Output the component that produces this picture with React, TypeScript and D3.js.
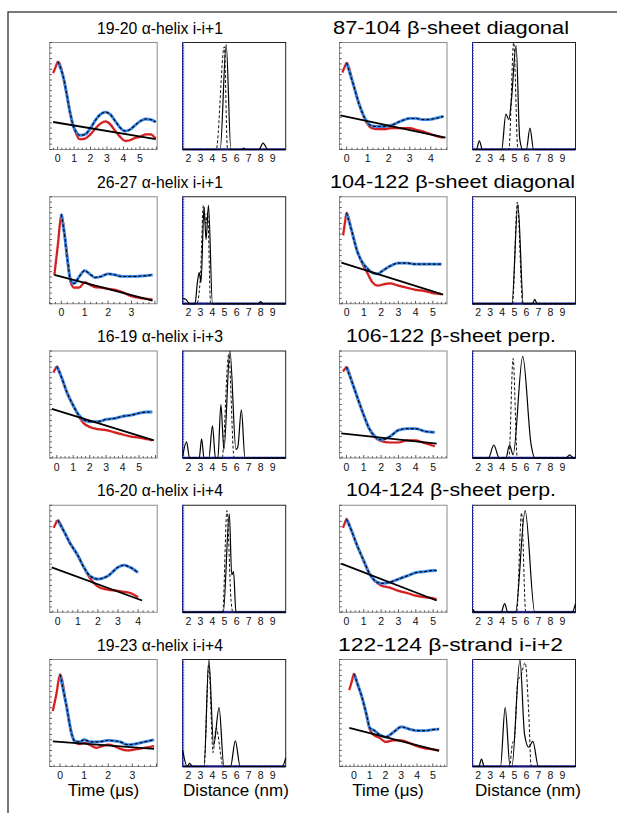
import React from "react";
import * as d3 from "d3";

// ---------- data ----------
const titles = [
  "19-20 α-helix i-i+1", "87-104 β-sheet diagonal",
  "26-27 α-helix i-i+1", "104-122 β-sheet diagonal",
  "16-19 α-helix i-i+3", "106-122 β-sheet perp.",
  "16-20 α-helix i-i+4", "104-124 β-sheet perp.",
  "19-23 α-helix i-i+4", "122-124 β-strand i-i+2",
];
const timeDomains = [
  [-0.48, 6.05], [-0.34, 4.77], [-0.5, 4.1], [-0.41, 5.82], [-0.43, 6.1],
  [-0.4, 5.8], [-0.4, 4.95], [-0.4, 5.8], [-0.43, 4.03], [-0.92, 5.9],
];
const timeTicks = [
  [0, 1, 2, 3, 4, 5], [0, 1, 2, 3, 4], [0, 1, 2, 3], [0, 1, 2, 3, 4, 5], [0, 1, 2, 3, 4, 5],
  [0, 1, 2, 3, 4, 5], [0, 1, 2, 3, 4], [0, 1, 2, 3, 4, 5], [0, 1, 2, 3], [0, 1, 2, 3, 4, 5],
];
const distDomain = [1.53, 10.08];
const distTicks = [2, 3, 4, 5, 6, 7, 8, 9];

// panel A: 19-20
const aT = [-0.27, -0.12, 0.02, 0.35, 0.55, 0.75, 0.96, 1.15, 1.33, 1.67, 1.98, 2.29, 2.6, 2.9, 3.2, 3.5, 3.8, 4.1, 4.4, 4.7, 5.0, 5.35, 5.65, 5.96];
const aRed = [0.715, 0.77, 0.82, 0.675, 0.52, 0.35, 0.217, 0.14, 0.096, 0.102, 0.139, 0.195, 0.241, 0.263, 0.235, 0.173, 0.118, 0.08, 0.087, 0.108, 0.118, 0.142, 0.142, 0.102];
const aBlue = [null, null, 0.82, 0.675, 0.52, 0.35, 0.217, 0.16, 0.133, 0.142, 0.195, 0.272, 0.328, 0.35, 0.328, 0.266, 0.204, 0.173, 0.186, 0.226, 0.263, 0.285, 0.28, 0.257];
const aBaseT = [-0.27, 5.96];
const aBaseY = [0.257, 0.096];
const aSolidR = [1.53, 4.64, 5.14, 5.53, 6.45, 6.6, 6.75, 7.86, 8.2, 8.6, 10.08];
const aSolidP = [0, 0, 0.98, 0, 0, 0.012, 0, 0, 0.06, 0, 0];
const aDashR = [1.53, 4.31, 4.98, 5.25, 10.08];
const aDashP = [0, 0, 0.96, 0, 0];

// panel B: 87-104
const bT = [-0.2, -0.1, 0, 0.3, 0.6, 0.9, 1.2, 1.5, 1.8, 2.1, 2.4, 2.7, 3.0, 3.3, 3.6, 3.9, 4.2, 4.6];
const bRed = [0.72, 0.77, 0.81, 0.62, 0.42, 0.27, 0.2, 0.19, 0.19, 0.2, 0.2, 0.2, 0.2, 0.185, 0.17, 0.15, 0.13, 0.11];
const bBlue = [null, null, 0.81, 0.62, 0.42, 0.28, 0.22, 0.215, 0.215, 0.225, 0.25, 0.275, 0.29, 0.29, 0.28, 0.28, 0.29, 0.31];
const bBaseT = [-0.3, 4.7];
const bBaseY = [0.32, 0.11];
const bSolidR = [1.53, 1.85, 2.1, 2.35, 3.95, 4.3, 4.55, 4.75, 5.15, 5.45, 5.7, 6.0, 6.3, 6.6, 10.08];
const bSolidP = [0, 0, 0.08, 0, 0, 0.33, 0.28, 0.45, 0.97, 0.1, 0, 0, 0.2, 0, 0];
const bDashR = [1.53, 4.55, 4.95, 5.3, 10.08];
const bDashP = [0, 0, 1.0, 0, 0];

// panel C: 26-27
const cT = [-0.3, -0.15, 0, 0.15, 0.25, 0.4, 0.55, 0.75, 1.0, 1.2, 1.45, 1.7, 2.0, 2.3, 2.6, 3.0, 3.5, 3.9];
const cRed = [0.27, 0.55, 0.835, 0.62, 0.43, 0.2, 0.15, 0.15, 0.2, 0.18, 0.155, 0.15, 0.14, 0.13, 0.11, 0.07, 0.05, 0.04];
const cBlue = [null, null, 0.835, 0.62, 0.43, 0.22, 0.19, 0.25, 0.31, 0.28, 0.245, 0.255, 0.28, 0.27, 0.255, 0.255, 0.26, 0.27];
const cBaseT = [-0.3, 3.9];
const cBaseY = [0.27, 0.03];
const cSolidR = [1.53, 1.8, 2.1, 2.55, 2.75, 2.9, 3.05, 3.3, 3.47, 3.67, 4.0, 7.8, 8.0, 8.2, 10.08];
const cSolidP = [0.05, 0.04, 0, 0, 0.2, 0.29, 0.2, 0.9, 0.6, 0.92, 0, 0, 0.02, 0, 0];
const cDashR = [1.53, 2.7, 3.0, 3.25, 3.45, 3.6, 3.85, 10.08];
const cDashP = [0, 0, 0.25, 0.92, 0.75, 0.85, 0, 0];

// panel D: 104-122
const dT = [-0.2, -0.1, 0, 0.3, 0.6, 0.9, 1.2, 1.5, 1.8, 2.1, 2.5, 3.0, 3.5, 4.0, 4.5, 5.0, 5.5];
const dRed = [0.64, 0.75, 0.85, 0.68, 0.5, 0.38, 0.29, 0.2, 0.17, 0.18, 0.19, 0.17, 0.15, 0.13, 0.12, 0.1, 0.09];
const dBlue = [null, null, 0.85, 0.68, 0.5, 0.39, 0.33, 0.29, 0.28, 0.31, 0.35, 0.38, 0.38, 0.37, 0.37, 0.37, 0.37];
const dBaseT = [-0.3, 5.6];
const dBaseY = [0.385, 0.085];
const dSolidR = [1.53, 4.8, 5.3, 5.75, 6.5, 6.7, 6.9, 10.08];
const dSolidP = [0, 0, 0.93, 0, 0, 0.04, 0, 0];
const dDashR = [1.53, 4.85, 5.25, 5.7, 10.08];
const dDashP = [0, 0, 0.95, 0, 0];

// panel E: 16-19
const eT = [-0.2, -0.1, 0, 0.3, 0.6, 1.0, 1.3, 1.6, 2.0, 2.5, 3.0, 3.5, 4.0, 4.5, 5.0, 5.5, 5.8];
const eRed = [0.8, 0.83, 0.855, 0.75, 0.62, 0.49, 0.4, 0.33, 0.29, 0.27, 0.26, 0.24, 0.22, 0.2, 0.19, 0.175, 0.165];
const eBlue = [null, null, 0.855, 0.75, 0.62, 0.49, 0.41, 0.36, 0.34, 0.34, 0.36, 0.37, 0.39, 0.4, 0.42, 0.43, 0.43];
const eBaseT = [-0.3, 5.9];
const eBaseY = [0.46, 0.165];
const eSolidR = [1.53, 1.85, 2.1, 2.9, 3.1, 3.3, 3.7, 4.0, 4.25, 4.45, 4.7, 4.95, 5.45, 5.95, 6.1, 6.4, 6.7, 10.08];
const eSolidP = [0.02, 0.15, 0, 0, 0.18, 0, 0, 0.3, 0, 0, 0.5, 0.08, 1.0, 0.08, 0.1, 0.45, 0, 0];
const eDashR = [1.53, 4.8, 5.35, 5.8, 10.08];
const eDashP = [0, 0, 0.97, 0, 0];

// panel F: 106-122
const fT = [-0.2, -0.1, 0, 0.3, 0.6, 1.0, 1.3, 1.6, 2.0, 2.5, 3.0, 3.5, 4.0, 4.5, 5.1];
const fRed = [0.81, 0.83, 0.85, 0.72, 0.58, 0.4, 0.28, 0.2, 0.16, 0.145, 0.145, 0.165, 0.165, 0.14, 0.11];
const fBlue = [null, null, 0.85, 0.72, 0.58, 0.4, 0.28, 0.21, 0.17, 0.2, 0.26, 0.275, 0.275, 0.25, 0.24];
const fBaseT = [-0.3, 5.2];
const fBaseY = [0.23, 0.135];
const fSolidR = [1.53, 2.85, 3.3, 3.75, 4.3, 4.6, 4.9, 5.7, 6.4, 6.7, 9.3, 9.6, 9.9, 10.08];
const fSolidP = [0, 0, 0.12, 0, 0, 0.12, 0.03, 0.95, 0.12, 0, 0, 0.03, 0, 0];
const fDashR = [1.53, 4.55, 4.9, 5.25, 10.08];
const fDashP = [0, 0, 0.93, 0, 0];

// panel G: 16-20
const gT = [-0.2, -0.1, 0, 0.3, 0.6, 1.0, 1.3, 1.6, 2.0, 2.5, 3.0, 3.3, 3.6, 4.0];
const gRed = [0.79, 0.83, 0.86, 0.76, 0.65, 0.53, 0.42, 0.32, 0.24, 0.21, 0.2, 0.19, 0.18, 0.14];
const gBlue = [null, null, 0.86, 0.76, 0.65, 0.53, 0.42, 0.34, 0.31, 0.34, 0.42, 0.44, 0.42, 0.37];
const gBaseT = [-0.3, 4.2];
const gBaseY = [0.42, 0.11];
const gSolidR = [1.53, 4.9, 5.4, 5.6, 5.75, 5.95, 10.08];
const gSolidP = [0, 0, 0.92, 0.35, 0.38, 0, 0];
const gDashR = [1.53, 4.85, 5.2, 5.55, 5.7, 10.08];
const gDashP = [0, 0, 0.95, 0.1, 0, 0];

// panel H: 104-124
const hT = [-0.2, -0.1, 0, 0.3, 0.6, 1.0, 1.3, 1.6, 2.0, 2.5, 3.0, 3.5, 4.0, 4.5, 5.0, 5.2];
const hRed = [0.79, 0.83, 0.87, 0.76, 0.63, 0.48, 0.37, 0.3, 0.25, 0.23, 0.2, 0.18, 0.155, 0.14, 0.13, 0.12];
const hBlue = [null, null, 0.87, 0.76, 0.63, 0.48, 0.37, 0.3, 0.27, 0.28, 0.31, 0.34, 0.37, 0.38, 0.39, 0.39];
const hBaseT = [-0.3, 5.2];
const hBaseY = [0.455, 0.11];
const hSolidR = [1.53, 1.8, 3.9, 4.2, 4.45, 5.1, 5.9, 6.7, 9.8, 10.08];
const hSolidP = [0.03, 0, 0, 0.08, 0, 0, 0.95, 0, 0, 0.08];
const hDashR = [1.53, 5.2, 5.6, 5.95, 10.08];
const hDashP = [0, 0, 0.93, 0, 0];

// panel I: 19-23
const iT = [-0.3, -0.15, 0, 0.25, 0.5, 0.6, 0.8, 1.0, 1.25, 1.5, 1.75, 2.0, 2.25, 2.5, 2.8, 3.1, 3.5, 3.9];
const iRed = [0.52, 0.68, 0.86, 0.585, 0.29, 0.23, 0.21, 0.22, 0.2, 0.175, 0.19, 0.205, 0.19, 0.165, 0.15, 0.16, 0.175, 0.19];
const iBlue = [null, null, 0.86, 0.585, 0.29, 0.24, 0.23, 0.25, 0.23, 0.23, 0.235, 0.245, 0.24, 0.23, 0.205, 0.21, 0.23, 0.25];
const iBaseT = [-0.3, 3.9];
const iBaseY = [0.235, 0.165];
const iSolidR = [1.53, 1.9, 2.1, 2.35, 3.3, 3.7, 4.1, 4.55, 4.95, 5.5, 5.9, 6.3, 9.8, 10.08];
const iSolidP = [0.15, 0, 0.03, 0, 0, 1.0, 0.2, 0.55, 0, 0, 0.24, 0, 0, 0.08];
const iDashR = [1.53, 3.3, 3.7, 4.05, 4.3, 4.9, 10.08];
const iDashP = [0, 0, 0.95, 0.13, 0.36, 0, 0];

// panel J: 122-124
const jT = [-0.3, -0.15, 0, 0.25, 0.5, 0.8, 1.0, 1.3, 1.6, 2.0, 2.5, 3.0, 3.5, 4.0, 4.5, 5.0, 5.4];
const jRed = [0.715, 0.79, 0.865, 0.76, 0.65, 0.48, 0.35, 0.29, 0.27, 0.23, 0.245, 0.245, 0.22, 0.19, 0.17, 0.16, 0.15];
const jBlue = [null, null, 0.865, 0.76, 0.65, 0.48, 0.36, 0.335, 0.3, 0.275, 0.32, 0.37, 0.35, 0.335, 0.335, 0.345, 0.35];
const jBaseT = [-0.3, 5.4];
const jBaseY = [0.36, 0.145];
const jSolidR = [1.53, 2.05, 2.28, 2.5, 3.85, 4.24, 4.65, 4.8, 5.47, 5.85, 6.2, 6.54, 7.0, 10.08];
const jSolidP = [0, 0, 0.07, 0, 0, 0.55, 0, 0, 1.0, 0.3, 0.18, 0.235, 0, 0];
const jDashR = [1.53, 4.6, 4.85, 5.0, 5.3, 5.55, 5.9, 6.2, 6.4, 10.08];
const jDashP = [0, 0, 0.22, 0.25, 0.8, 0.85, 0.97, 0.5, 0, 0];

const panels = [
  { T: aT, red: aRed, blue: aBlue, baseT: aBaseT, baseY: aBaseY, sR: aSolidR, sP: aSolidP, dR: aDashR, dP: aDashP },
  { T: bT, red: bRed, blue: bBlue, baseT: bBaseT, baseY: bBaseY, sR: bSolidR, sP: bSolidP, dR: bDashR, dP: bDashP },
  { T: cT, red: cRed, blue: cBlue, baseT: cBaseT, baseY: cBaseY, sR: cSolidR, sP: cSolidP, dR: cDashR, dP: cDashP },
  { T: dT, red: dRed, blue: dBlue, baseT: dBaseT, baseY: dBaseY, sR: dSolidR, sP: dSolidP, dR: dDashR, dP: dDashP },
  { T: eT, red: eRed, blue: eBlue, baseT: eBaseT, baseY: eBaseY, sR: eSolidR, sP: eSolidP, dR: eDashR, dP: eDashP },
  { T: fT, red: fRed, blue: fBlue, baseT: fBaseT, baseY: fBaseY, sR: fSolidR, sP: fSolidP, dR: fDashR, dP: fDashP },
  { T: gT, red: gRed, blue: gBlue, baseT: gBaseT, baseY: gBaseY, sR: gSolidR, sP: gSolidP, dR: gDashR, dP: gDashP },
  { T: hT, red: hRed, blue: hBlue, baseT: hBaseT, baseY: hBaseY, sR: hSolidR, sP: hSolidP, dR: hDashR, dP: hDashP },
  { T: iT, red: iRed, blue: iBlue, baseT: iBaseT, baseY: iBaseY, sR: iSolidR, sP: iSolidP, dR: iDashR, dP: iDashP },
  { T: jT, red: jRed, blue: jBlue, baseT: jBaseT, baseY: jBaseY, sR: jSolidR, sP: jSolidP, dR: jDashR, dP: jDashP },
];

// ---------- layout ----------
const FONT = "'Liberation Sans', Arial, Helvetica, sans-serif";
const W = 617, H = 813;
const colX = [49.7, 339.5];
const timeW = 107.5;
const distOff = 133;
const distW = 103;
const panelH = 107;
const rowTop = (r: number) => 42.5 + r * 154.25;
const titleStart = [[97, 333], [97, 330], [97, 346], [97, 346], [97, 338]];
const titleLen = [[126, 236], [126, 245], [126, 210], [126, 210], [126, 225]];
const titleSize = [16.5, 18.5];
const axisTitleX = [[103.5, 236], [388, 528]];

const RED = "#d42020";
const BLUE = "#3585ea";

function TimePanel({ x, y, p, domain, ticks }: any) {
  const xs = d3.scaleLinear().domain(domain).range([x, x + timeW]);
  const ys = d3.scaleLinear().domain([0, 1]).range([y + panelH, y]);
  const idx = p.T.map((_: number, i: number) => i);
  const redLine = d3.line<number>()
    .x((i) => xs(p.T[i]))
    .y((i) => ys(p.red[i]))
    .curve(d3.curveMonotoneX);
  const blueLine = d3.line<number>()
    .defined((i) => p.blue[i] != null)
    .x((i) => xs(p.T[i]))
    .y((i) => ys(p.blue[i]))
    .curve(d3.curveMonotoneX);
  const baseLine = d3.line<number>()
    .x((i) => xs(p.baseT[i]))
    .y((i) => ys(p.baseY[i]));
  const leftTicks = d3.range(0, 1.0001, 0.05);
  const minor = d3.range(Math.ceil(domain[0] * 4) / 4, domain[1], 0.25);
  const rd = redLine(idx) || "";
  const bd = blueLine(idx) || "";
  return (
    <g>
      <rect x={x} y={y} width={timeW} height={panelH} fill="white" stroke="#8a8a8a" strokeWidth={1} />
      {leftTicks.map((v, k) => (
        <line key={"l" + k} x1={x} x2={x + 2.2} y1={ys(v)} y2={ys(v)} stroke="#333" strokeWidth={0.8} />
      ))}
      {minor.map((v, k) => (
        <line key={"b" + k} x1={xs(v)} x2={xs(v)} y1={y + panelH} y2={y + panelH - (Number.isInteger(v) ? 3 : 1.8)} stroke="#333" strokeWidth={0.8} />
      ))}
      <path d={rd} fill="none" stroke={RED} strokeWidth={2.2} strokeLinejoin="round" />
      <path d={rd} fill="none" stroke={RED} strokeWidth={3.2} strokeDasharray="0.5,1.8" opacity={0.5} />
      <path d={bd} fill="none" stroke={BLUE} strokeWidth={2.8} strokeLinejoin="round" />
      <path d={bd} fill="none" stroke={BLUE} strokeWidth={3.8} strokeDasharray="0.5,1.8" opacity={0.5} />
      <path d={bd} fill="none" stroke="#000" strokeWidth={1.1} strokeDasharray="3,2" />
      <path d={baseLine([0, 1]) || ""} fill="none" stroke="#000" strokeWidth={1.8} />
      {ticks.map((t: number) => (
        <text key={t} x={xs(t)} y={y + panelH + 12.5} fontSize={10.5} textAnchor="middle" fontFamily={FONT} fill="#111">{t}</text>
      ))}
    </g>
  );
}

function DistPanel({ x, y, p }: any) {
  const xs = d3.scaleLinear().domain(distDomain).range([x, x + distW]);
  const ys = d3.scaleLinear().domain([0, 1]).range([y + panelH, y]);
  const sIdx = p.sR.map((_: number, i: number) => i);
  const dIdx = p.dR.map((_: number, i: number) => i);
  const solid = d3.line<number>().x((i) => xs(p.sR[i])).y((i) => ys(p.sP[i])).curve(d3.curveMonotoneX);
  const dashed = d3.line<number>().x((i) => xs(p.dR[i])).y((i) => ys(p.dP[i])).curve(d3.curveMonotoneX);
  const leftTicks = d3.range(0, 1.0001, 0.025);
  const botTicks = d3.range(1.6, 10.05, 0.1);
  return (
    <g>
      <rect x={x} y={y} width={distW} height={panelH} fill="white" stroke="#222" strokeWidth={1} />
      <line x1={x} x2={x} y1={y} y2={y + panelH} stroke="#1c1c8a" strokeWidth={1} />
      {leftTicks.map((v, k) => (
        <line key={"l" + k} x1={x} x2={x + 1.6} y1={ys(v)} y2={ys(v)} stroke="#2a3cc8" strokeWidth={0.8} />
      ))}
      {botTicks.map((v, k) => (
        <line key={"b" + k} x1={xs(v)} x2={xs(v)} y1={y + panelH} y2={y + panelH - 1.5} stroke="#2a3cc8" strokeWidth={0.7} />
      ))}
      <line x1={x} x2={x + distW} y1={y + panelH} y2={y + panelH} stroke="#14146e" strokeWidth={1.8} />
      <path d={dashed(dIdx) || ""} fill="none" stroke="#111" strokeWidth={1} strokeDasharray="3,2" />
      <path d={solid(sIdx) || ""} fill="none" stroke="#000" strokeWidth={1.2} />
      {distTicks.map((t) => (
        <text key={t} x={xs(t)} y={y + panelH + 12.5} fontSize={10.5} textAnchor="middle" fontFamily={FONT} fill="#111">{t}</text>
      ))}
    </g>
  );
}

export default function App() {
  return (
    <svg width={W} height={H} viewBox={`0 0 ${W} ${H}`} style={{ position: "absolute", left: 0, top: 0, background: "white" }}>
      <rect x={0} y={0} width={W} height={H} fill="white" />
      <rect x={8} y={12} width={W + 20} height={H + 20} fill="none" stroke="#333" strokeWidth={1.3} />
      {panels.map((p, k) => {
        const row = Math.floor(k / 2);
        const col = k % 2;
        const x0 = colX[col];
        const y0 = rowTop(row);
        return (
          <g key={k}>
            <text x={titleStart[row][col]} y={y0 - 9} fontSize={titleSize[col]} textLength={titleLen[row][col]} lengthAdjust="spacingAndGlyphs" fontFamily={FONT} fill="#000">{titles[k]}</text>
            <TimePanel x={x0} y={y0} p={p} domain={timeDomains[k]} ticks={timeTicks[k]} />
            <DistPanel x={x0 + distOff} y={y0} p={p} />
          </g>
        );
      })}
      {axisTitleX.map((pair, c) => (
        <g key={c}>
          <text x={pair[0]} y={796} fontSize={17} textAnchor="middle" fontFamily={FONT}>Time (μs)</text>
          <text x={pair[1]} y={796} fontSize={17} textAnchor="middle" fontFamily={FONT}>Distance (nm)</text>
        </g>
      ))}
    </svg>
  );
}
